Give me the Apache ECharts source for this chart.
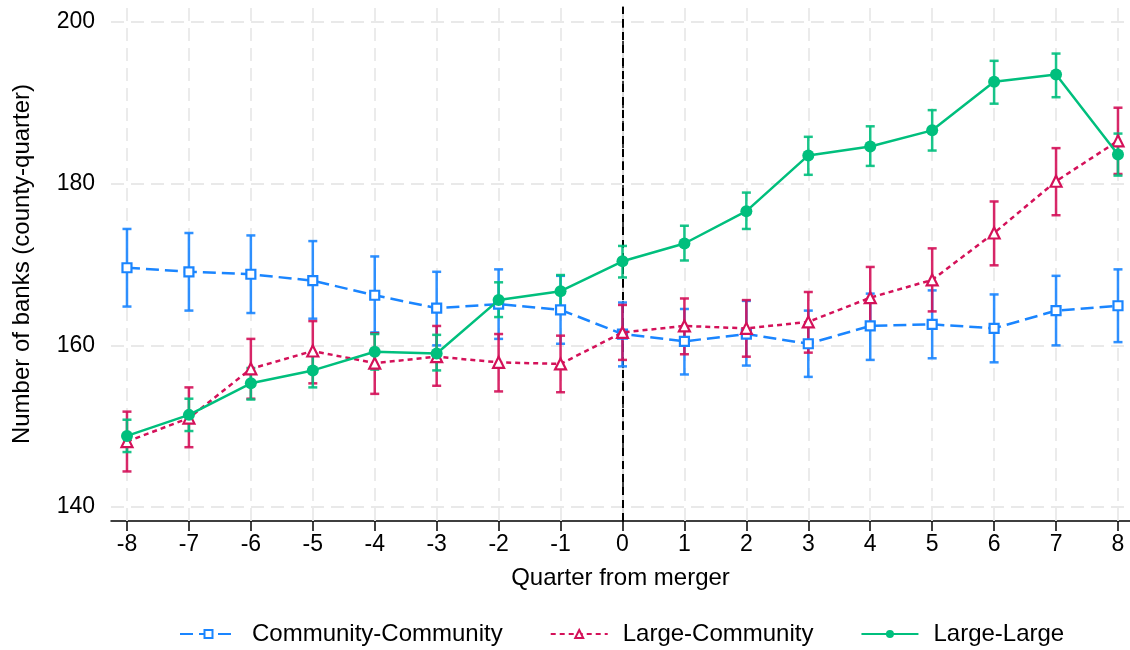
<!DOCTYPE html>
<html>
<head>
<meta charset="utf-8">
<script src="https://cdn.jsdelivr.net/npm/echarts@6/dist/echarts.min.js"></script>
<style>html,body{margin:0;padding:0;background:#fff}#c{width:1130px;height:650px}</style>
</head>
<body>
<div id="c"></div>
<script>
const quarters = [-8,-7,-6,-5,-4,-3,-2,-1,0,1,2,3,4,5,6,7,8];
const yTicks = [140,160,180,200];

const ccMean = [169.6,169.1,168.8,168.0,166.2,164.6,165.1,164.4,161.4,160.5,161.4,160.2,162.4,162.6,162.1,164.3,164.9];
const ccLo   = [164.8,164.3,164.0,163.3,161.6,160.0,160.8,160.2,157.4,156.4,157.5,156.1,158.2,158.4,157.9,160.0,160.4];
const ccHi   = [174.4,173.9,173.6,172.9,171.0,169.1,169.4,168.6,165.3,164.5,165.5,164.3,166.4,166.8,166.3,168.6,169.4];

const lcMean = [148.1,151.0,157.1,159.3,157.8,158.6,157.9,157.7,161.6,162.4,162.1,162.9,165.9,168.1,173.9,180.3,185.3];
const lcLo   = [144.4,147.4,153.4,155.3,154.0,155.0,154.3,154.2,158.2,158.9,158.6,159.1,162.2,164.2,169.9,176.1,181.2];
const lcHi   = [151.8,154.8,160.8,163.0,161.5,162.4,161.4,161.2,165.0,165.8,165.6,166.6,169.7,172.0,177.8,184.4,189.4];

const llMean = [148.8,151.4,155.3,156.9,159.2,159.0,165.6,166.7,170.4,172.6,176.6,183.5,184.6,186.6,192.6,193.5,183.6];
const llLo   = [146.8,149.4,153.3,154.8,157.0,156.9,163.5,164.8,168.4,170.5,174.4,181.1,182.2,184.1,189.9,190.7,181.0];
const llHi   = [150.8,153.4,157.2,159.0,161.4,161.3,167.8,168.7,172.3,174.8,178.9,185.8,187.1,189.1,195.2,196.1,186.2];

const names = ['Community-Community','Large-Community','Large-Large'];
const colors = ['#1A85FF','#D41159','#00BF7D'];

const FONT = 'Liberation Sans, Arial, Helvetica, sans-serif';

function pts(mean){ return quarters.map((q,i)=>[q, mean[i]]); }
function bars(lo,hi){ return quarters.map((q,i)=>[q, lo[i], hi[i]]); }

function errSeries(name, lo, hi, color){
  return {
    type:'custom', name:name, z:3, silent:true,
    data: bars(lo,hi),
    renderItem: function(params, api){
      const x = api.value(0);
      const a = api.coord([x, api.value(1)]);
      const b = api.coord([x, api.value(2)]);
      const w = 4.5;
      const st = {stroke: color, lineWidth: 2.5, opacity: 0.9};
      return {type:'group', children:[
        {type:'line', shape:{x1:a[0],y1:a[1],x2:b[0],y2:b[1]}, style:st},
        {type:'line', shape:{x1:a[0]-w,y1:a[1],x2:a[0]+w,y2:a[1]}, style:st},
        {type:'line', shape:{x1:b[0]-w,y1:b[1],x2:b[0]+w,y2:b[1]}, style:st}
      ]};
    }
  };
}

const gridColor = '#e9e9e9';
const chart = echarts.init(document.getElementById('c'), null, {renderer:'canvas'});
chart.setOption({
  animation:false,
  backgroundColor:'#fff',
  textStyle:{fontFamily:FONT},
  grid:{left:111, right:0, top:7, bottom:129, containLabel:false},
  legend:{
    data:names, top:617, left:174, itemWidth:57, itemHeight:10, itemGap:47,
    textStyle:{fontSize:24, color:'#000', fontFamily:FONT, padding:[0,0,0,10]}
  },
  xAxis:{
    type:'value', min:-8.258, max:8.194,
    name:'Quarter from merger', nameLocation:'middle', nameGap:45,
    nameTextStyle:{fontSize:24, color:'#000', fontFamily:FONT},
    axisLine:{onZero:false, lineStyle:{color:'#000', width:1.5}},
    axisTick:{show:true, length:10, lineStyle:{color:'#000', width:1.5}, customValues:quarters},
    axisLabel:{fontSize:23, color:'#000', margin:12, customValues:quarters, fontFamily:FONT},
    splitLine:{show:false}
  },
  yAxis:{
    type:'value', min:138.27, max:201.86,
    name:'Number of banks (county-quarter)', nameLocation:'middle', nameGap:77,
    nameTextStyle:{fontSize:24, color:'#000', fontFamily:FONT},
    axisLine:{show:true, lineStyle:{color:'#000', width:1.5}},
    axisTick:{show:true, length:10, lineStyle:{color:'#000', width:1.5}, customValues:yTicks},
    axisLabel:{fontSize:23, color:'#000', margin:16, customValues:yTicks, fontFamily:FONT},
    splitLine:{show:false}
  },
  series:[
    {
      type:'line', name:'grid', data:[[0,170]], symbol:'none', lineStyle:{opacity:0}, silent:true, z:1,
      markLine:{
        z:1, silent:true, symbol:'none', label:{show:false}, animation:false,
        lineStyle:{color:gridColor, type:[13,7], width:1.8},
        data: yTicks.map(v=>({yAxis:v})).concat(quarters.map(q=>({xAxis:q})))
      }
    },
    {
      type:'line', name:'zero', data:[[0,170]], symbol:'none', lineStyle:{opacity:0}, silent:true, z:2,
      markLine:{
        z:2, silent:true, symbol:'none', label:{show:false}, animation:false,
        lineStyle:{color:'#000', type:[8,5], width:2},
        data:[{xAxis:0}]
      }
    },
    errSeries('cc-err', ccLo, ccHi, colors[0]),
    errSeries('lc-err', lcLo, lcHi, colors[1]),
    errSeries('ll-err', llLo, llHi, colors[2]),
    {
      type:'line', name:names[0], data:pts(ccMean), z:4,
      symbol:'rect', symbolSize:9, showAllSymbol:true,
      itemStyle:{color:'#fff', borderColor:colors[0], borderWidth:2.2},
      lineStyle:{color:colors[0], width:2.5, type:[13,6]}
    },
    {
      type:'line', name:names[1], data:pts(lcMean), z:5,
      symbol:'triangle', symbolSize:11, showAllSymbol:true,
      itemStyle:{color:'#fff', borderColor:colors[1], borderWidth:2.2},
      lineStyle:{color:colors[1], width:2.5, type:[5,4]}
    },
    {
      type:'line', name:names[2], data:pts(llMean), z:6,
      symbol:'circle', symbolSize:12, showAllSymbol:true,
      itemStyle:{color:colors[2], borderColor:colors[2], borderWidth:0},
      lineStyle:{color:colors[2], width:2.5, type:'solid'}
    }
  ]
});
</script>
</body>
</html>
